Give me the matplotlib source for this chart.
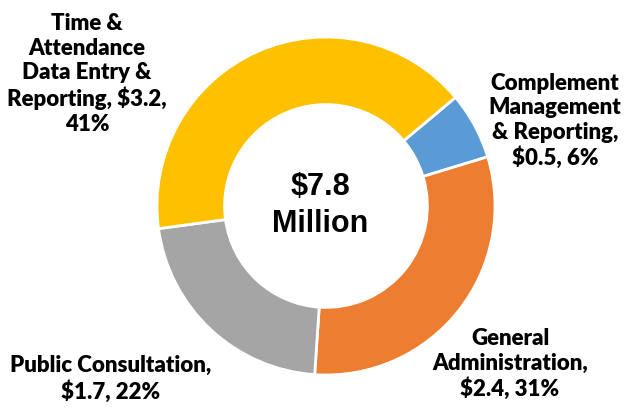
import matplotlib
matplotlib.use('Agg')
import matplotlib.pyplot as plt

# slices, clockwise from the blue one
values = [0.5, 2.4, 1.7, 3.2]
pcts = [6, 31, 22, 41]
colors = ['#5B9BD5', '#ED7D31', '#A5A5A5', '#FFC000']
total = 7.8

W, H = 627, 408
fig = plt.figure(figsize=(W/100, H/100), dpi=100)

cx, cy, r = 326, 206, 169
ax = fig.add_axes([(cx-r)/W, (H-cy-r)/H, 2*r/W, 2*r/H])
ax.pie(values, colors=colors, startangle=40, counterclock=False, radius=1,
       wedgeprops=dict(width=0.4, edgecolor='white', linewidth=2))
ax.set_xlim(-1, 1)
ax.set_ylim(-1, 1)
ax.axis('off')

ax.text(-0.035, 0.115, '$%.1f' % total, ha='center', va='center',
        fontsize=22, fontweight='bold', family='Liberation Sans')
ax.text(-0.035, -0.105, 'Million', ha='center', va='center',
        fontsize=22, fontweight='bold', family='Liberation Sans')

lab = [
    ('Complement\nManagement\n& Reporting,\n$%.1f, %d%%' % (values[0], pcts[0]), 555, 121),
    ('General\nAdministration,\n$%.1f, %d%%' % (values[1], pcts[1]), 510, 364),
    ('Public Consultation,\n$%.1f, %d%%' % (values[2], pcts[2]), 111, 379),
    ('Time &\nAttendance\nData Entry &\nReporting, $%.1f,\n%d%%' % (values[3], pcts[3]), 87, 74),
]
for t, x, y in lab:
    fig.text(x/W, 1-y/H, t, ha='center', va='center', fontsize=16,
             fontweight='heavy', family='Lato', linespacing=1.2)

fig.savefig('out.png', dpi=100)
